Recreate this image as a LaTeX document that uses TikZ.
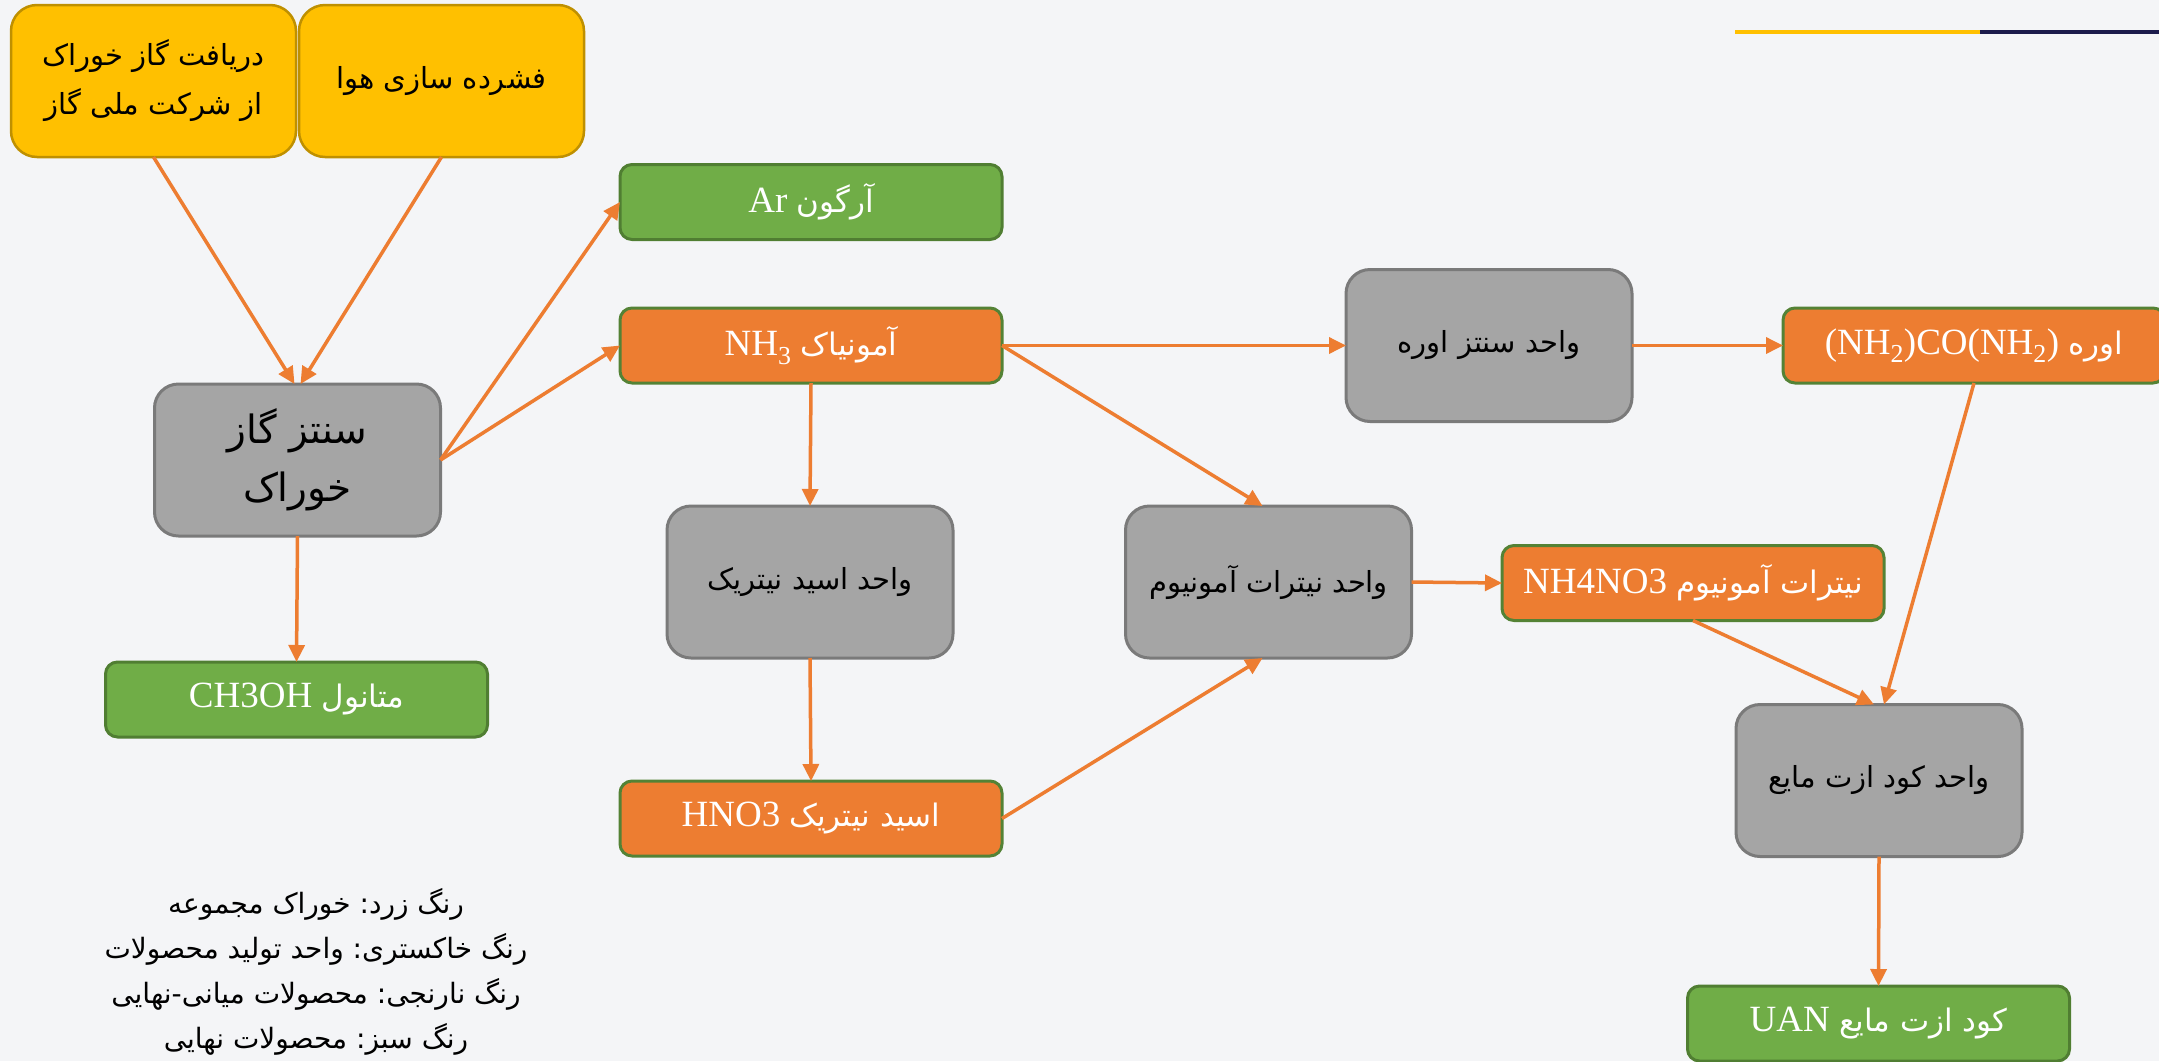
\documentclass[tikz,border=0pt]{standalone}
\usepackage{fontspec}
\setmainfont{Liberation Serif}
\newfontfamily\fa[Script=Arabic]{DejaVu Sans}
\TeXXeTstate=1
\frenchspacing
\usetikzlibrary{arrows.meta}

\definecolor{bgcol}{HTML}{F4F5F7}
\definecolor{feedfill}{HTML}{FFC000}
\definecolor{feedline}{HTML}{BF9000}
\definecolor{unitfill}{HTML}{A5A5A5}
\definecolor{unitline}{HTML}{7A7A7A}
\definecolor{prodfill}{HTML}{ED7D31}
\definecolor{prodline}{HTML}{548235}
\definecolor{endfill}{HTML}{70AD47}
\definecolor{endline}{HTML}{507E32}
\definecolor{flowcol}{HTML}{ED7D31}
\definecolor{navy}{HTML}{1C1B4C}

\newcommand{\fatext}[1]{{\fontsize{31}{36}\fa\beginR #1\endR}}

\tikzset{
  feedbox/.style={draw=feedline, fill=feedfill, line width=2.5pt, rounded corners=26pt,
    minimum width=285pt, minimum height=152pt, inner sep=0pt, outer sep=0pt,
    align=center, font=\fontsize{29}{49}\fa},
  unitbox/.style={draw=unitline, fill=unitfill, line width=3pt, rounded corners=24pt,
    minimum width=286pt, minimum height=152pt, inner sep=0pt, outer sep=0pt,
    align=center, font=\fontsize{29}{40}\fa},
  prodbox/.style={draw=prodline, fill=prodfill, line width=3pt, rounded corners=12pt,
    minimum width=382pt, minimum height=75pt, inner sep=0pt, outer sep=0pt,
    text=white, font=\fontsize{37}{40}\selectfont},
  endbox/.style={prodbox, draw=endline, fill=endfill},
  flow/.style={draw=flowcol, line width=3.5pt, -{Triangle[length=17pt,width=16pt]}},
}

\begin{document}
\begin{tikzpicture}[x=1pt, y=-1pt]
  \useasboundingbox[fill=bgcol] (0,0) rectangle (2159,1061);

  % top bar
  \draw[line width=4pt, feedfill] (1735,31.5) -- (1980,31.5);
  \draw[line width=4pt, navy] (1980,31.5) -- (2159,31.5);

  % feed
  \node[feedbox] (feed) at (153.5,81) {\beginR دریافت گاز خوراک\endR\\\beginR از شرکت ملی گاز\endR};
  \node[feedbox] (air) at (441.5,81) {\beginR فشرده سازی هوا\endR};

  % units
  \node[unitbox, font=\fontsize{39}{58}\fa] (gas) at (297.5,460) {\beginR سنتز گاز\endR\\\beginR خوراک\endR};
  \node[unitbox] (nitric) at (810,582) {\beginR واحد اسید نیتریک\endR};
  \node[unitbox] (ammnit) at (1268.5,582) {\beginR واحد نیترات آمونیوم\endR};
  \node[unitbox] (ureaunit) at (1489,345.5) {\beginR واحد سنتز اوره\endR};
  \node[unitbox] (uanunit) at (1879,780.5) {\beginR واحد کود ازت مایع\endR};

  % products
  \node[endbox] (ar) at (811,202) {Ar \fatext{آرگون}};
  \node[prodbox] (nh3) at (811,345.5) {NH\textsubscript{3} \fatext{آمونیاک}};
  \node[endbox] (meoh) at (296.5,699.5) {CH3OH \fatext{متانول}};
  \node[prodbox] (hno3) at (811,818.5) {HNO3 \fatext{اسید نیتریک}};
  \node[prodbox] (urea) at (1974,345.5) {(NH\textsubscript{2})CO(NH\textsubscript{2}) \fatext{اوره}};
  \node[prodbox] (an) at (1693,583) {NH4NO3 \fatext{نیترات آمونیوم}};
  \node[endbox] (uan) at (1878.5,1023.5) {UAN \fatext{کود ازت مایع}};

  % legend
  \node[align=center, font=\fontsize{28}{45}\fa] (key) at (316,972)
    {\beginR رنگ زرد: خوراک مجموعه\endR\\
     \beginR رنگ خاکستری: واحد تولید محصولات\endR\\
     \beginR رنگ نارنجی: محصولات میانی-نهایی\endR\\
     \beginR رنگ سبز: محصولات نهایی\endR};

  % flows
  \draw[flow] (feed.south) -- ([xshift=-3pt]gas.north);
  \draw[flow] (air.south) -- ([xshift=3pt]gas.north);
  \draw[flow] (gas.east) -- (ar.west);
  \draw[flow] (gas.east) -- (nh3.west);
  \draw[flow] (gas.south) -- (meoh.north);
  \draw[flow] (nh3.south) -- (nitric.north);
  \draw[flow] (nitric.south) -- (hno3.north);
  \draw[flow] (nh3.east) -- ([xshift=-6pt]ammnit.north);
  \draw[flow] (hno3.east) -- ([xshift=-6pt]ammnit.south);
  \draw[flow] (nh3.east) -- (ureaunit.west);
  \draw[flow] (ureaunit.east) -- (urea.west);
  \draw[flow] (ammnit.east) -- (an.west);
  \draw[flow] (an.south) -- ([xshift=-5pt]uanunit.north);
  \draw[flow] (urea.south) -- ([xshift=5pt]uanunit.north);
  \draw[flow] (uanunit.south) -- (uan.north);
\end{tikzpicture}
\end{document}
